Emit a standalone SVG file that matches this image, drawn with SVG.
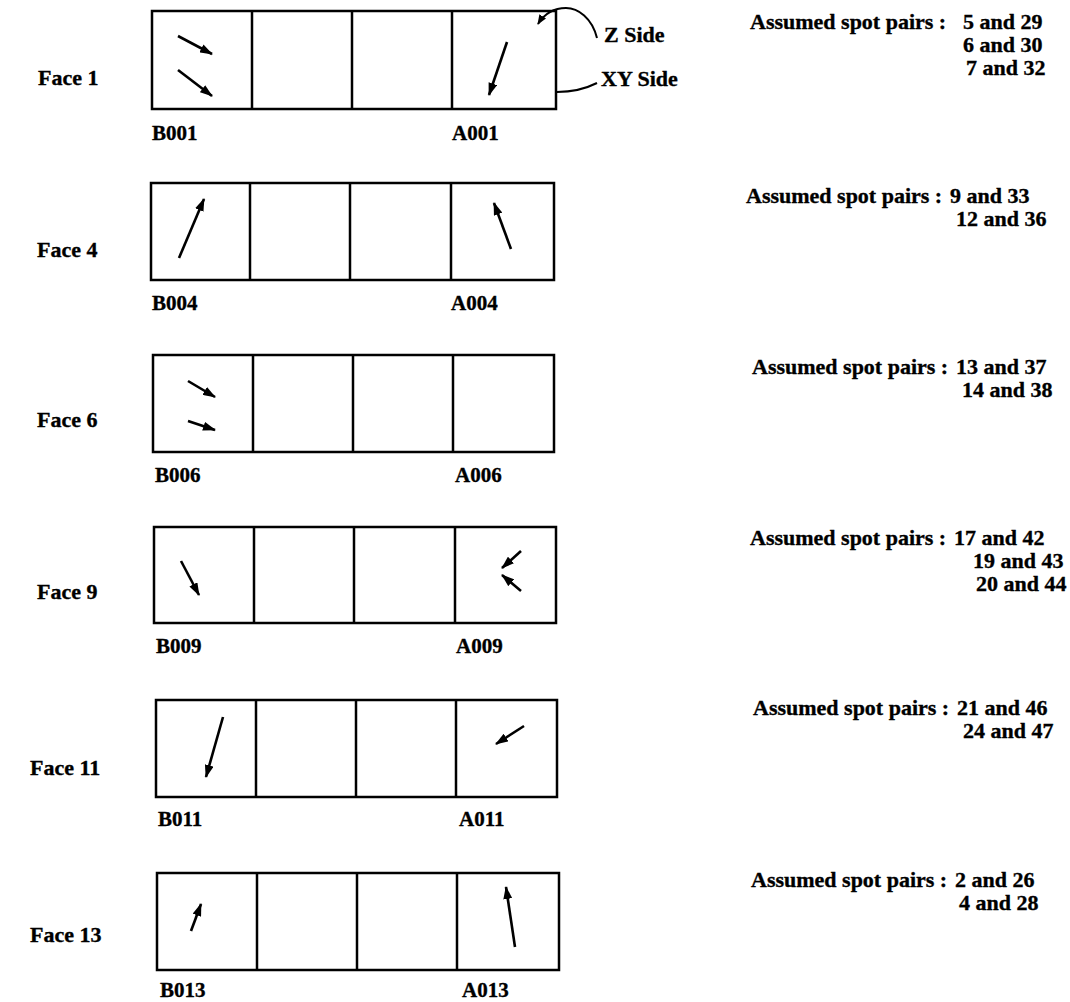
<svg xmlns="http://www.w3.org/2000/svg" width="1070" height="1002" viewBox="0 0 1070 1002">
<style>
text{font-family:"Liberation Serif","Times New Roman",serif;font-weight:bold;fill:#000;stroke:#000;stroke-width:0.35}
.face{font-size:22px}
.lab{font-size:21px}
.side{font-size:22px}
.pr{font-size:22px}
.box{fill:#fff;stroke:#000;stroke-width:2.5}
.div{stroke:#000;stroke-width:2.5}
.arr{stroke:#000;stroke-width:2.6;fill:none;marker-end:url(#ah)}
.cur{stroke:#000;stroke-width:2;fill:none}
</style>
<defs>
<marker id="ah" viewBox="0 0 13 9" refX="12" refY="4.5" markerWidth="13" markerHeight="9" markerUnits="userSpaceOnUse" orient="auto">
<path d="M0,0 L13,4.5 L0,9 z" fill="#000"/>
</marker>
<marker id="ahs" viewBox="0 0 10 8" refX="9" refY="4" markerWidth="10" markerHeight="8" markerUnits="userSpaceOnUse" orient="auto">
<path d="M0,0 L10,4 L0,8 z" fill="#000"/>
</marker>
</defs>
<rect width="1070" height="1002" fill="#fff"/>

<g id="face1">
<text class="face" x="38" y="85">Face 1</text>
<rect class="box" x="152" y="11" width="404" height="98"/>
<line class="div" x1="252" y1="11" x2="252" y2="109"/>
<line class="div" x1="352" y1="11" x2="352" y2="109"/>
<line class="div" x1="452" y1="11" x2="452" y2="109"/>
<text class="lab" x="152" y="140">B001</text>
<text class="lab" x="452" y="140">A001</text>
<text class="side" x="604" y="42">Z Side</text>
<text class="side" x="601" y="86">XY Side</text>
<text class="pr" x="750" y="29">Assumed spot pairs :<tspan x="963">5 and 29</tspan></text>
<text class="pr" x="963" y="52">6 and 30</text>
<text class="pr" x="966" y="75">7 and 32</text>
</g>

<g id="face4">
<text class="face" x="37" y="257">Face 4</text>
<rect class="box" x="151" y="183" width="403" height="97"/>
<line class="div" x1="250" y1="183" x2="250" y2="280"/>
<line class="div" x1="350" y1="183" x2="350" y2="280"/>
<line class="div" x1="451" y1="183" x2="451" y2="280"/>
<text class="lab" x="152" y="310">B004</text>
<text class="lab" x="451" y="310">A004</text>
<text class="pr" x="746" y="203">Assumed spot pairs :<tspan x="950">9 and 33</tspan></text>
<text class="pr" x="956" y="226">12 and 36</text>
</g>

<g id="face6">
<text class="face" x="37" y="427">Face 6</text>
<rect class="box" x="153" y="355" width="401" height="97"/>
<line class="div" x1="253" y1="355" x2="253" y2="452"/>
<line class="div" x1="353" y1="355" x2="353" y2="452"/>
<line class="div" x1="453" y1="355" x2="453" y2="452"/>
<text class="lab" x="155" y="482">B006</text>
<text class="lab" x="455" y="482">A006</text>
<text class="pr" x="752" y="374">Assumed spot pairs :<tspan x="956">13 and 37</tspan></text>
<text class="pr" x="962" y="397">14 and 38</text>
</g>

<g id="face9">
<text class="face" x="37" y="599">Face 9</text>
<rect class="box" x="154" y="527" width="402" height="96"/>
<line class="div" x1="254" y1="527" x2="254" y2="623"/>
<line class="div" x1="354" y1="527" x2="354" y2="623"/>
<line class="div" x1="455" y1="527" x2="455" y2="623"/>
<text class="lab" x="156" y="653">B009</text>
<text class="lab" x="456" y="653">A009</text>
<text class="pr" x="750" y="545">Assumed spot pairs :<tspan x="954">17 and 42</tspan></text>
<text class="pr" x="973" y="568">19 and 43</text>
<text class="pr" x="976" y="591">20 and 44</text>
</g>

<g id="face11">
<text class="face" x="30" y="775">Face 11</text>
<rect class="box" x="156" y="700" width="401" height="97"/>
<line class="div" x1="256" y1="700" x2="256" y2="797"/>
<line class="div" x1="356" y1="700" x2="356" y2="797"/>
<line class="div" x1="456" y1="700" x2="456" y2="797"/>
<text class="lab" x="158" y="826">B011</text>
<text class="lab" x="459" y="826">A011</text>
<text class="pr" x="753" y="715">Assumed spot pairs :<tspan x="957">21 and 46</tspan></text>
<text class="pr" x="963" y="738">24 and 47</text>
</g>

<g id="face13">
<text class="face" x="30" y="942">Face 13</text>
<rect class="box" x="157" y="873" width="402" height="97"/>
<line class="div" x1="257" y1="873" x2="257" y2="970"/>
<line class="div" x1="357" y1="873" x2="357" y2="970"/>
<line class="div" x1="457" y1="873" x2="457" y2="970"/>
<text class="lab" x="160" y="997">B013</text>
<text class="lab" x="462" y="997">A013</text>
<text class="pr" x="751" y="887">Assumed spot pairs :<tspan x="955">2 and 26</tspan></text>
<text class="pr" x="959" y="910">4 and 28</text>
</g>

<g id="connectors">
<path class="cur" d="M597,38 C592,18 578,8 566,8 C552,8 543,16 538,24" marker-end="url(#ahs)"/>
<path class="cur" d="M557,92 C570,92 585,89 597,83"/>
<line class="arr" x1="178" y1="36" x2="212" y2="54"/>
<line class="arr" x1="178" y1="70" x2="212" y2="96"/>
<line class="arr" x1="507" y1="42" x2="489" y2="95"/>
<line class="arr" x1="179" y1="258" x2="204" y2="199"/>
<line class="arr" x1="511" y1="249" x2="494" y2="203"/>
<line class="arr" x1="188" y1="381" x2="215" y2="397"/>
<line class="arr" x1="188" y1="421" x2="215" y2="430"/>
<line class="arr" x1="181" y1="561" x2="199" y2="595"/>
<line class="arr" x1="521" y1="551" x2="502" y2="568"/>
<line class="arr" x1="521" y1="591" x2="502" y2="575"/>
<line class="arr" x1="223" y1="717" x2="206" y2="777"/>
<line class="arr" x1="524" y1="726" x2="496" y2="744"/>
<line class="arr" x1="191" y1="931" x2="201" y2="904"/>
<line class="arr" x1="515" y1="947" x2="506" y2="887"/>
</g>
</svg>
